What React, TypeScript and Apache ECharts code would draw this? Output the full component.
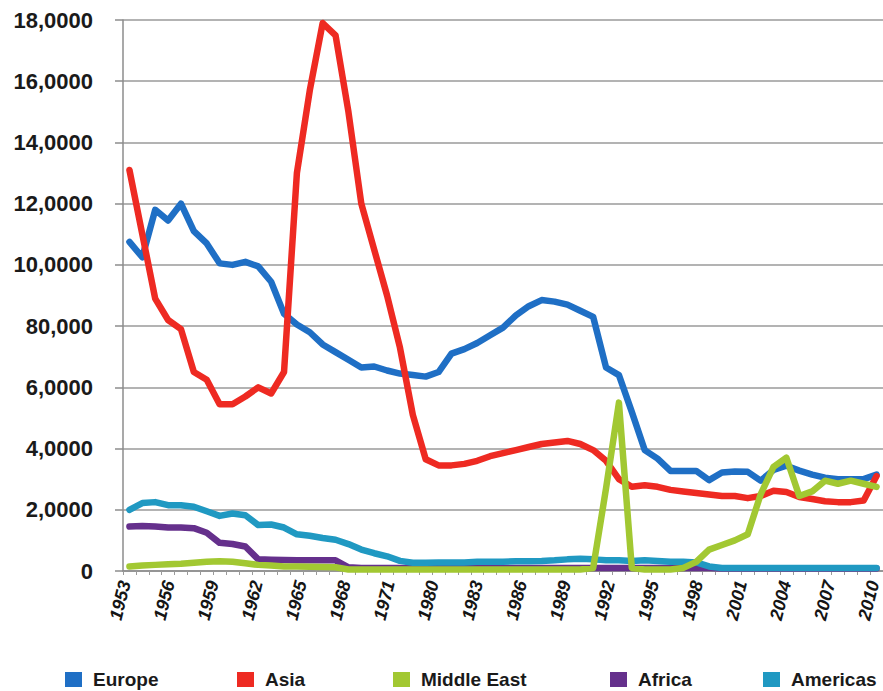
import React, { useEffect, useRef } from "react";
import * as echarts from "echarts";

const years = [
  "1953", "1954", "1955", "1956", "1957", "1958", "1959", "1960", "1961", "1962",
  "1963", "1964", "1965", "1966", "1967", "1968", "1969", "1970", "1971", "1972",
  "1973", "1974", "1975", "1976", "1977", "1978", "1979", "1980", "1981", "1982",
  "1983", "1984", "1985", "1986", "1987", "1988", "1989", "1990", "1991", "1992",
  "1993", "1994", "1995", "1996", "1997", "1998", "1999", "2000", "2001", "2002",
  "2003", "2004", "2005", "2006", "2007", "2008", "2009", "2010", "2011",
];

const xTickLabels = [
  "1953", "1956", "1959", "1962", "1965", "1968", "1971", "1980", "1983",
  "1986", "1989", "1992", "1995", "1998", "2001", "2004", "2007", "2010",
];

const yTickLabels = [
  "0", "2,0000", "4,0000", "6,0000", "80,000", "10,0000", "12,0000", "14,0000", "16,0000", "18,0000",
];

const europe = [
  10.75, 10.25, 11.8, 11.45, 12.0, 11.1, 10.7, 10.05, 10.0, 10.1,
  9.95, 9.45, 8.4, 8.05, 7.8, 7.4, 7.15, 6.9, 6.65, 6.68,
  6.55, 6.45, 6.4, 6.35, 6.5, 7.1, 7.25, 7.45, 7.7, 7.95,
  8.35, 8.65, 8.85, 8.8, 8.7, 8.5, 8.3, 6.65, 6.4, 5.2,
  3.95, 3.67, 3.27, 3.27, 3.27, 2.97, 3.22, 3.25, 3.24, 2.95,
  3.3, 3.44, 3.28, 3.15, 3.05, 3.0, 3.0, 3.0, 3.15,
];

const asia = [
  13.1, 11.0, 8.9, 8.2, 7.9, 6.5, 6.25, 5.45, 5.45, 5.7,
  6.0, 5.8, 6.5, 13.0, 15.7, 17.9, 17.5, 15.0, 12.0, 10.5,
  9.0, 7.3, 5.1, 3.65, 3.45, 3.45, 3.5, 3.6, 3.75, 3.85,
  3.95, 4.05, 4.15, 4.2, 4.25, 4.15, 3.95, 3.6, 3.0, 2.75,
  2.8, 2.75, 2.65, 2.6, 2.55, 2.5, 2.45, 2.45, 2.38, 2.45,
  2.62, 2.58, 2.42, 2.35, 2.28, 2.25, 2.25, 2.3, 3.1,
];

const middleEast = [
  0.15, 0.18, 0.2, 0.22, 0.24, 0.27, 0.3, 0.32, 0.3, 0.25,
  0.2, 0.18, 0.15, 0.15, 0.14, 0.13, 0.12, 0.05, 0.05, 0.05,
  0.05, 0.05, 0.05, 0.05, 0.05, 0.05, 0.05, 0.05, 0.05, 0.05,
  0.05, 0.05, 0.05, 0.05, 0.05, 0.05, 0.1, 2.7, 5.5, 0.1,
  0.05, 0.05, 0.05, 0.1, 0.3, 0.7, 0.85, 1.0, 1.2, 2.5,
  3.4, 3.7, 2.45, 2.6, 2.95, 2.85, 2.95, 2.85, 2.75,
];

const africa = [
  1.45, 1.47, 1.45, 1.42, 1.42, 1.4, 1.25, 0.92, 0.88, 0.8,
  0.38, 0.37, 0.36, 0.35, 0.35, 0.35, 0.35, 0.12, 0.1, 0.1,
  0.1, 0.1, 0.1, 0.1, 0.1, 0.1, 0.1, 0.1, 0.1, 0.1,
  0.1, 0.1, 0.1, 0.1, 0.1, 0.1, 0.1, 0.1, 0.1, 0.1,
  0.1, 0.1, 0.1, 0.1, 0.1, 0.1, 0.08, 0.08, 0.08, 0.08,
  0.08, 0.08, 0.08, 0.08, 0.08, 0.08, 0.08, 0.08, 0.08,
];

const americas = [
  2.0, 2.22, 2.25, 2.15, 2.15, 2.1, 1.95, 1.8, 1.88, 1.82,
  1.5, 1.52, 1.42, 1.2, 1.15, 1.08, 1.02, 0.88, 0.7, 0.58,
  0.48, 0.33, 0.27, 0.27, 0.28, 0.28, 0.28, 0.3, 0.3, 0.3,
  0.32, 0.32, 0.33, 0.35, 0.38, 0.4, 0.38, 0.35, 0.35, 0.33,
  0.35, 0.33, 0.3, 0.3, 0.28, 0.15, 0.1, 0.1, 0.1, 0.1,
  0.1, 0.1, 0.1, 0.1, 0.1, 0.1, 0.1, 0.1, 0.1,
];

const seriesDefs = [
  { name: "Europe", data: europe, color: "#1f6fc5" },
  { name: "Asia", data: asia, color: "#ee2a22" },
  { name: "Africa", data: africa, color: "#65308c" },
  { name: "Americas", data: americas, color: "#2099c2" },
  { name: "Middle East", data: middleEast, color: "#a2c832" },
];

const legendItems = [
  { name: "Europe", left: 65 },
  { name: "Asia", left: 237 },
  { name: "Middle East", left: 393 },
  { name: "Africa", left: 610 },
  { name: "Americas", left: 763 },
];

const FONT = "'Liberation Sans', Arial, Helvetica, sans-serif";

export default function App() {
  const ref = useRef<HTMLDivElement>(null);

  useEffect(() => {
    if (!ref.current) return;
    const chart = echarts.init(ref.current, null, { renderer: "svg" });
    const gridTop = 20;
    const gridBottom = 120;
    chart.setOption({
      animation: false,
      backgroundColor: "#ffffff",
      grid: [
        { left: 123, right: -13, top: gridTop, bottom: gridBottom },
        { left: 125, right: 3, top: gridTop, bottom: gridBottom },
      ],
      legend: legendItems.map((it) => ({
        data: [it.name],
        left: it.left,
        top: 670,
        padding: 0,
        icon: "rect",
        itemWidth: 17,
        itemHeight: 15,
        textStyle: {
          fontSize: 19,
          fontWeight: "bold",
          fontFamily: FONT,
          color: "#1a1a1a",
          padding: [0, 0, 0, 6],
        },
      })),
      xAxis: [
        {
          type: "category",
          gridIndex: 0,
          data: years,
          boundaryGap: true,
          axisLine: { show: true, lineStyle: { color: "#8c8c8c", width: 1.5 } },
          axisTick: { show: true, interval: 0, length: 4, lineStyle: { color: "#9a9a9a", width: 1 } },
          axisLabel: { show: false },
          splitLine: { show: false },
        },
        {
          type: "category",
          gridIndex: 1,
          data: xTickLabels,
          boundaryGap: false,
          axisLine: { show: false },
          axisTick: { show: false },
          axisLabel: {
            show: true,
            interval: 0,
            rotate: 76,
            margin: 10,
            fontSize: 18,
            fontWeight: "bold",
            fontStyle: "italic",
            fontFamily: FONT,
            color: "#151515",
          },
          splitLine: { show: false },
        },
      ],
      yAxis: [
        {
          type: "value",
          gridIndex: 0,
          min: 0,
          max: 18,
          interval: 2,
          axisLine: { show: true, lineStyle: { color: "#8c8c8c", width: 1.5 } },
          axisTick: { show: true, inside: false, length: 8, lineStyle: { color: "#8c8c8c", width: 1.5 } },
          splitLine: { show: true, lineStyle: { color: "#9a9a9a", width: 1.5 } },
          axisLabel: {
            margin: 30,
            fontSize: 22,
            fontWeight: "bold",
            fontFamily: FONT,
            color: "#1a1a1a",
            padding: [12, 0, 0, 0],
            formatter: (v: number) => yTickLabels[Math.round(v / 2)] ?? "",
          },
        },
        {
          type: "value",
          gridIndex: 1,
          min: 0,
          max: 18,
          show: false,
        },
      ],
      series: seriesDefs.map((s) => ({
        name: s.name,
        type: "line",
        xAxisIndex: 0,
        yAxisIndex: 0,
        data: s.data,
        symbol: "none",
        smooth: false,
        color: s.color,
        lineStyle: { width: 6.5, color: s.color, cap: "round", join: "round" },
        emphasis: { disabled: true },
      })),
    });
    return () => chart.dispose();
  }, []);

  return (
    <div
      ref={ref}
      style={{ position: "fixed", left: 0, top: 0, width: 883, height: 691, background: "#fff" }}
    />
  );
}
